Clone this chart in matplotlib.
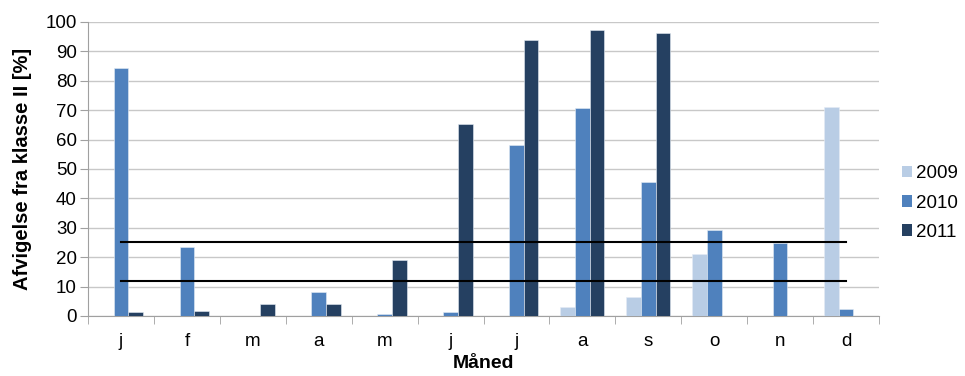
import matplotlib
matplotlib.use("Agg")
import matplotlib.pyplot as plt
import numpy as np
from matplotlib.patches import Patch

plt.rcParams['font.family'] = ['Liberation Sans', 'DejaVu Sans']

months = ['j', 'f', 'm', 'a', 'm', 'j', 'j', 'a', 's', 'o', 'n', 'd']
years = ['2009', '2010', '2011']
v2009 = [0, 0, 0, 0, 0, 0, 0, 3.1, 6.5, 21.1, 0, 71.2]
v2010 = [84.5, 23.6, 0, 8.1, 0.6, 1.5, 58.3, 70.9, 45.7, 29.4, 24.8, 2.4]
v2011 = [1.3, 1.8, 4.0, 4.0, 18.9, 65.3, 93.8, 97.4, 96.1, 0, 0, 0]
limit_upper = 25
limit_lower = 12
colors = ['#B9CDE5', '#4F81BD', '#254061']

fig = plt.figure(figsize=(9.65, 3.76), dpi=100)
ax = fig.add_axes([0.0912, 0.1596, 0.8197, 0.7819])

x = np.arange(len(months))
w = 0.222
for i, (vals, c) in enumerate(zip([v2009, v2010, v2011], colors)):
    ax.bar(x + (i - 1) * w, vals, width=w, color=c, edgecolor='#E4ECF5',
           linewidth=0.4, zorder=3)

ax.plot([x[0], x[-1]], [limit_upper, limit_upper], color='black', lw=1.5, zorder=4)
ax.plot([x[0], x[-1]], [limit_lower, limit_lower], color='black', lw=1.5, zorder=4)

ax.set_xlim(-0.5, len(months) - 0.5)
ax.set_ylim(0, 100)
ax.set_yticks(np.arange(0, 101, 10))
ax.yaxis.grid(True, color='#C8C8C8', lw=1, zorder=0)
ax.set_xticks(x)
ax.set_xticklabels(months, fontsize=13.5)
ax.set_xticks(np.arange(-0.5, len(months)), minor=True)
ax.tick_params(axis='x', which='major', length=0, pad=12)
ax.tick_params(axis='x', which='minor', length=6, color='#A0A0A0', direction='out')
ax.tick_params(axis='y', labelsize=13.5, length=6, color='#A0A0A0', pad=2)
for s in ['top', 'right']:
    ax.spines[s].set_visible(False)
for s in ['left', 'bottom']:
    ax.spines[s].set_color('#A0A0A0')

ax.set_ylabel('Afvigelse fra klasse II [%]', fontsize=14.5, fontweight='bold', labelpad=10)
ax.set_xlabel('Måned', fontsize=14, fontweight='bold', labelpad=4)

handles = [Patch(facecolor=c, label=y) for c, y in zip(colors, years)]
fig.legend(handles=handles, loc='center left', bbox_to_anchor=(0.927, 0.46),
           frameon=False, fontsize=13.5, handlelength=0.55, handleheight=0.55,
           handletextpad=0.2, labelspacing=0.65, borderaxespad=0)

fig.savefig('out.png', dpi=100)
